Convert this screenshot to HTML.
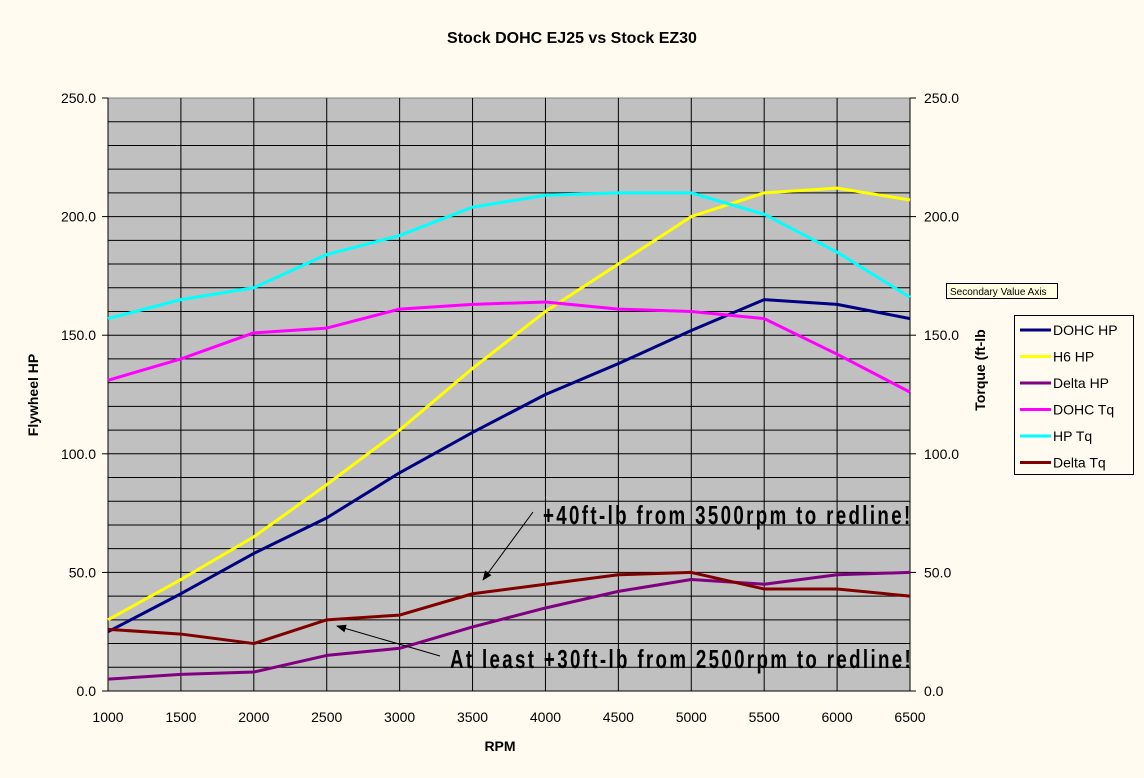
<!DOCTYPE html>
<html><head><meta charset="utf-8"><style>
body{margin:0;background:#fffbf0;}
svg{display:block;font-family:"Liberation Sans",Arial,sans-serif;}
</style></head><body>
<svg id="c" width="1144" height="778">
<defs><marker id="ah" markerWidth="10" markerHeight="8" refX="9" refY="4" orient="auto"><path d="M0,0 L10,4 L0,8 z" fill="#000"/></marker></defs>
<rect width="1144" height="778" fill="#fffbf0"/>
<text x="572" y="43" text-anchor="middle" font-size="16" font-weight="bold">Stock DOHC EJ25 vs Stock EZ30</text>
<g id="plot"></g>
<text x="500" y="751" text-anchor="middle" font-size="14" font-weight="bold">RPM</text>
<text transform="translate(38,395) rotate(-90)" text-anchor="middle" font-size="14" font-weight="bold">Flywheel HP</text>
<text transform="translate(985,370) rotate(-90)" text-anchor="middle" font-size="14" font-weight="bold">Torque (ft-lb</text>
<g><rect x="946.5" y="283.5" width="111" height="15" fill="#ffffe1" stroke="#000"/><text x="950" y="295" font-size="10">Secondary Value Axis</text></g>
<g id="legend"><rect x="1014.5" y="315.5" width="119" height="159" fill="#fffbf0" stroke="#000"/></g>
<text x="543" y="524" font-size="26" font-weight="bold" transform="translate(543,0) scale(0.72,1) translate(-543,0)" textLength="510">+40ft-lb from 3500rpm to redline!</text>
<line x1="533" y1="512" x2="483" y2="580" stroke="#000" stroke-width="1" marker-end="url(#ah)"/>
<text x="450" y="668" font-size="26" font-weight="bold" transform="translate(450,0) scale(0.72,1) translate(-450,0)" textLength="640">At least +30ft-lb from 2500rpm to redline!</text>
<line x1="440" y1="656" x2="337" y2="626" stroke="#000" stroke-width="1" marker-end="url(#ah)"/>
</svg>
<script>
const rpm=[1000,1500,2000,2500,3000,3500,4000,4500,5000,5500,6000,6500];
const dohcHp=[25,41,58,73,92,109,125,138,152,165,163,157];
const h6Hp=[30,47,65,87,110,136,160,180,200,210,212,207];
const deltaHp=[5,7,8,15,18,27,35,42,47,45,49,50];
const dohcTq=[131,140,151,153,161,163,164,161,160,157,142,126];
const hpTq=[157,165,170,184,192,204,209,210,210,201,185,166];
const deltaTq=[26,24,20,30,32,41,45,49,50,43,43,40];
const yTicks=[0,50,100,150,200,250];
const NS="http://www.w3.org/2000/svg";
const L=108,R=910,T=98,B=691;
const xs=v=>L+(v-1000)/5500*(R-L);
const ys=v=>B-v/250*(B-T);
const plot=document.getElementById('plot');
function mk(tag,at,par){const e=document.createElementNS(NS,tag);for(const k in at)e.setAttribute(k,at[k]);(par||plot).appendChild(e);return e;}
const bg=mk('rect',{x:L,y:T,width:R-L,height:B-T,fill:'#c0c0c0',stroke:'#808080'});


for(let v=10;v<250;v+=10){const g=mk('line',{x1:L,x2:R,y1:ys(v),y2:ys(v),stroke:'#000','stroke-width':1});

}
rpm.forEach((r,i)=>{if(i>0&&i<rpm.length-1){const g=mk('line',{x1:xs(r),x2:xs(r),y1:T,y2:B,stroke:'#000','stroke-width':1});

}
const t=mk('text',{x:xs(r),y:B+31,'text-anchor':'middle','font-size':14});t.textContent=r;

});
mk('line',{x1:L,x2:L,y1:T,y2:B,stroke:'#000'});
mk('line',{x1:R,x2:R,y1:T,y2:B,stroke:'#000'});
mk('line',{x1:L,x2:R,y1:B,y2:B,stroke:'#000'});
yTicks.forEach(v=>{
const a=mk('text',{x:L-12,y:ys(v)+5,'text-anchor':'end','font-size':14});a.textContent=v.toFixed(1);


const b=mk('text',{x:R+14,y:ys(v)+5,'font-size':14});b.textContent=v.toFixed(1);


mk('line',{x1:L-6,x2:L,y1:ys(v),y2:ys(v),stroke:'#000'});
mk('line',{x1:R,x2:R+6,y1:ys(v),y2:ys(v),stroke:'#000'});});
const series=[["DOHC HP",dohcHp,"#000080","dohc-hp-line"],["H6 HP",h6Hp,"#ffff00","h6-hp-line"],["Delta HP",deltaHp,"#800080","delta-hp-line"],["DOHC Tq",dohcTq,"#ff00ff","dohc-tq-line"],["HP Tq",hpTq,"#00ffff","hp-tq-line"],["Delta Tq",deltaTq,"#800000","delta-tq-line"]];
const leg=document.getElementById('legend');
series.forEach((s,i)=>{
const p=mk('polyline',{points:rpm.map((r,j)=>xs(r)+','+ys(s[1][j])).join(' '),fill:'none',stroke:s[2],'stroke-width':3,'stroke-linejoin':'round'});


const y=330+i*26.5;
mk('line',{x1:1020,x2:1051,y1:y,y2:y,stroke:s[2],'stroke-width':3},leg);
const t=mk('text',{x:1053,y:y+5,'font-size':14},leg);t.textContent=s[0];

});
</script>
</body></html>
